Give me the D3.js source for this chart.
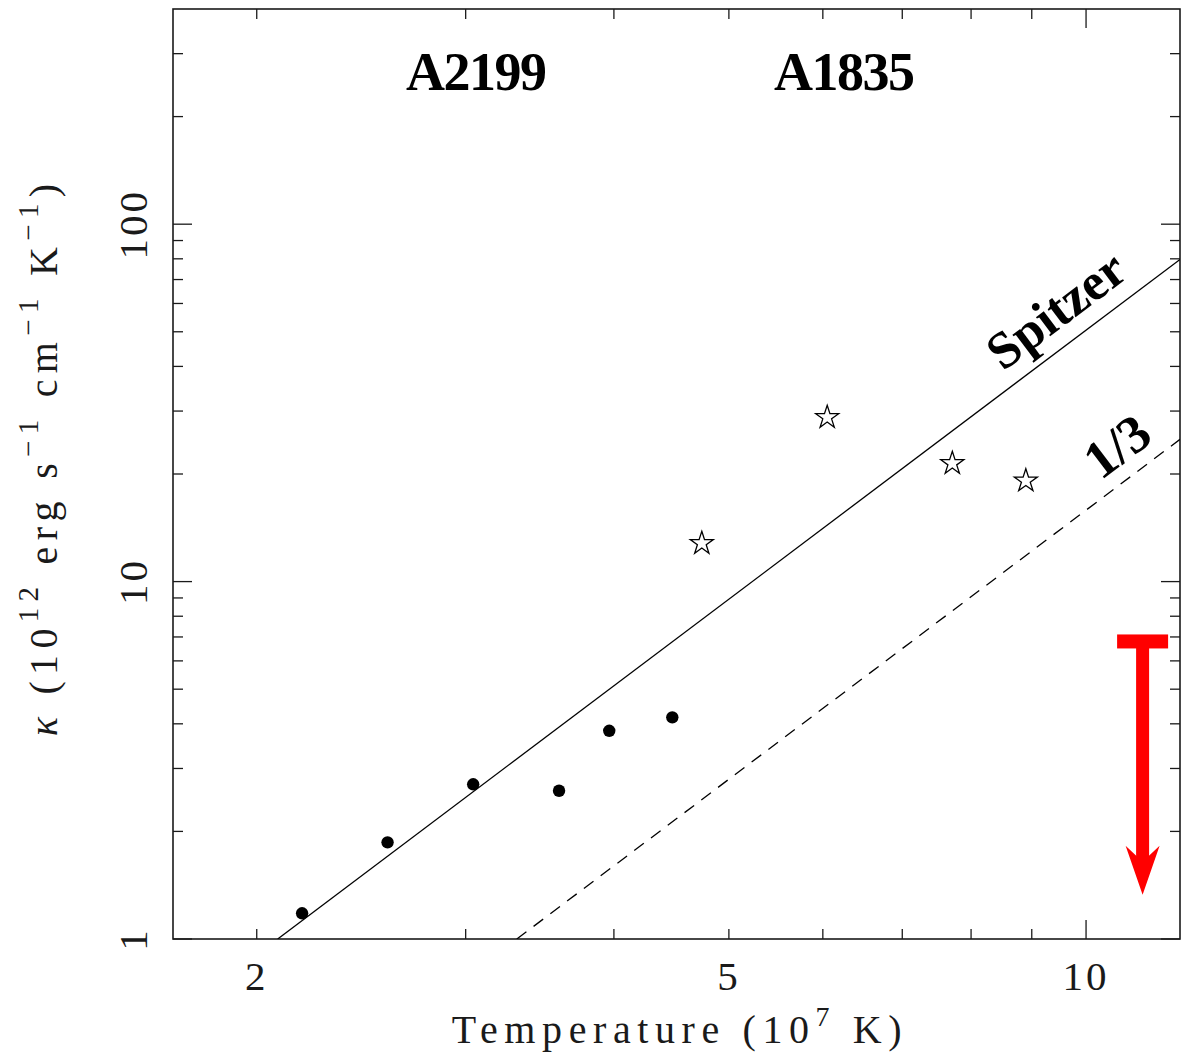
<!DOCTYPE html>
<html><head><meta charset="utf-8">
<script src="https://cdn.jsdelivr.net/npm/d3@7/dist/d3.min.js"></script>
<style>
html,body{margin:0;padding:0;background:#fff;}
svg{display:block;}
</style></head>
<body>
<svg id="chart" width="1184" height="1054"></svg>
<script>
// ---- data ----
const dotTemp   = [2.184, 2.578, 3.044, 3.596, 3.964, 4.480];   // A2199 (10^7 K)
const dotKappa  = [1.180, 1.864, 2.709, 2.599, 3.825, 4.170];
const starTemp  = [4.744, 6.051, 7.714, 8.897];                 // A1835
const starKappa = [12.79, 28.80, 21.41, 19.14];
const spitzerTemp  = [2.083, 12];
const spitzerKappa = [1, 79.7];
const thirdTemp  = [3.313, 12];
const thirdKappa = [1, 25.0];
const limitTemp  = [11.16];
const limitKappa = [6.8, 1.33];   // upper limit bar, arrow tip
const xTickLabels = [2, 5, 10];
const yTickLabels = [1, 10, 100];
const xMinor = [2,3,4,5,6,7,8,9];
const xMajor = [10];
const yMinor = [2,3,4,5,6,7,8,9,20,30,40,50,60,70,80,90,200,300];
const yMajor = [1,10,100];
const clusterLabels = ["A2199", "A1835"];
const clusterLabelTemp = [3.06, 6.25];

const svg = d3.select("#chart");
const L = 173, R = 1180, T = 9, B = 939;
const x = d3.scaleLog().domain([1.7, 12]).range([L, R]);
const y = d3.scaleLog().domain([1, 400]).range([B, T]);
const serif = "'Liberation Serif','Times New Roman',serif";
const ink = "#1a1a1a";

svg.append("defs").append("clipPath").attr("id","clip")
  .append("rect").attr("x",L).attr("y",T).attr("width",R-L).attr("height",B-T);

// frame
svg.append("rect").attr("x",L).attr("y",T).attr("width",R-L).attr("height",B-T)
  .attr("fill","none").attr("stroke",ink).attr("stroke-width",1.6);

// ticks (inside, all four sides)
const tk = svg.append("g").attr("stroke",ink).attr("stroke-width",1.3);
const minLen = 10, majLen = 19;
xMinor.forEach(v => {
  tk.append("line").attr("x1",x(v)).attr("x2",x(v)).attr("y1",B).attr("y2",B-minLen);
  tk.append("line").attr("x1",x(v)).attr("x2",x(v)).attr("y1",T).attr("y2",T+minLen);
});
xMajor.forEach(v => {
  tk.append("line").attr("x1",x(v)).attr("x2",x(v)).attr("y1",B).attr("y2",B-majLen);
  tk.append("line").attr("x1",x(v)).attr("x2",x(v)).attr("y1",T).attr("y2",T+majLen);
});
yMinor.forEach(v => {
  tk.append("line").attr("y1",y(v)).attr("y2",y(v)).attr("x1",L).attr("x2",L+minLen);
  tk.append("line").attr("y1",y(v)).attr("y2",y(v)).attr("x1",R).attr("x2",R-minLen);
});
yMajor.forEach(v => {
  tk.append("line").attr("y1",y(v)).attr("y2",y(v)).attr("x1",L).attr("x2",L+majLen);
  tk.append("line").attr("y1",y(v)).attr("y2",y(v)).attr("x1",R).attr("x2",R-majLen);
});

// tick labels
svg.append("g").selectAll("text").data(xTickLabels).join("text")
  .attr("x", d => x(d)).attr("y", 990)
  .attr("text-anchor","middle").attr("font-family",serif).attr("font-size",41)
  .attr("letter-spacing", 3)
  .attr("fill",ink).text(d => d);
svg.append("g").selectAll("text").data(yTickLabels).join("text")
  .attr("transform", d => `translate(147,${y(d)}) rotate(-90)`)
  .attr("text-anchor","middle").attr("font-family",serif).attr("font-size",41)
  .attr("letter-spacing", 3)
  .attr("fill",ink).text(d => d);

// axis titles
const xt = svg.append("text").attr("x",680).attr("y",1043)
  .attr("text-anchor","middle").attr("font-family",serif).attr("font-size",40)
  .attr("letter-spacing",6.6).attr("fill",ink);
xt.append("tspan").text("Temperature (10");
xt.append("tspan").attr("dy",-17).attr("font-size",28).text("7");
xt.append("tspan").attr("dy",17).text(" K)");

const yt = svg.append("text").attr("transform","translate(57,457) rotate(-90)")
  .attr("text-anchor","middle").attr("font-family",serif).attr("font-size",40)
  .attr("letter-spacing",6.3).attr("fill",ink);
yt.append("tspan").attr("font-style","italic").text("κ");
yt.append("tspan").text(" (10");
yt.append("tspan").attr("dy",-19).attr("font-size",29).text("12");
yt.append("tspan").attr("dy",19).text(" erg s");
yt.append("tspan").attr("dy",-19).attr("font-size",29).text("−1");
yt.append("tspan").attr("dy",19).text(" cm");
yt.append("tspan").attr("dy",-19).attr("font-size",29).text("−1");
yt.append("tspan").attr("dy",19).text(" K");
yt.append("tspan").attr("dy",-19).attr("font-size",29).text("−1");
yt.append("tspan").attr("dy",19).text(")");

// lines
const plot = svg.append("g").attr("clip-path","url(#clip)");
const line = d3.line().x(d => x(d[0])).y(d => y(d[1]));
plot.append("path").datum(d3.zip(spitzerTemp, spitzerKappa))
  .attr("d", line).attr("fill","none").attr("stroke","#000").attr("stroke-width",1.3);
plot.append("path").datum(d3.zip(thirdTemp, thirdKappa))
  .attr("d", line).attr("fill","none").attr("stroke","#000").attr("stroke-width",1.3)
  .attr("stroke-dasharray","12,9");

// line labels
function angleOf(ts, ks){
  return Math.atan2(y(ks[1]) - y(ks[0]), x(ts[1]) - x(ts[0])) * 180 / Math.PI;
}
const ang = angleOf(spitzerTemp, spitzerKappa);
svg.append("text").attr("transform",`translate(1056,310) rotate(${ang})`)
  .attr("text-anchor","middle").attr("dominant-baseline","central")
  .attr("font-family",serif).attr("font-weight","bold").attr("font-size",52)
  .attr("fill","#000").text("Spitzer");
svg.append("text").attr("transform",`translate(1117,446) rotate(${ang})`)
  .attr("text-anchor","middle").attr("dominant-baseline","central")
  .attr("font-family",serif).attr("font-weight","bold").attr("font-size",53)
  .attr("fill","#000").text("1/3");

// cluster labels
svg.append("g").selectAll("text").data(clusterLabels).join("text")
  .attr("x", (d,i) => x(clusterLabelTemp[i])).attr("y", 90)
  .attr("text-anchor","middle").attr("font-family",serif).attr("font-weight","bold")
  .attr("font-size",54).attr("letter-spacing",-1.5).attr("fill","#000").text(d => d);

// points
plot.append("g").selectAll("circle").data(d3.zip(dotTemp, dotKappa)).join("circle")
  .attr("cx", d => x(d[0])).attr("cy", d => y(d[1])).attr("r", 6.2).attr("fill","#000");
const star = d3.symbol().type(d3.symbolStar).size(165);
plot.append("g").selectAll("path").data(d3.zip(starTemp, starKappa)).join("path")
  .attr("transform", d => `translate(${x(d[0])},${y(d[1])})`)
  .attr("d", star).attr("fill","#fff").attr("stroke","#000").attr("stroke-width",1.3)
  .attr("stroke-linejoin","miter");

// red upper-limit arrow
const ax = x(limitTemp[0]), ay0 = y(limitKappa[0]), ay1 = y(limitKappa[1]);
const red = svg.append("g").attr("fill","#ff0000");
red.append("rect").attr("x", ax - 25.5).attr("y", ay0 - 7).attr("width", 51).attr("height", 14);
red.append("rect").attr("x", ax - 6.5).attr("y", ay0).attr("width", 13).attr("height", (ay1 - 30) - ay0);
red.append("path").attr("d",
  `M${ax-17},${ay1-49} L${ax},${ay1} L${ax+17},${ay1-49} L${ax},${ay1-33} Z`);
</script>
</body></html>
